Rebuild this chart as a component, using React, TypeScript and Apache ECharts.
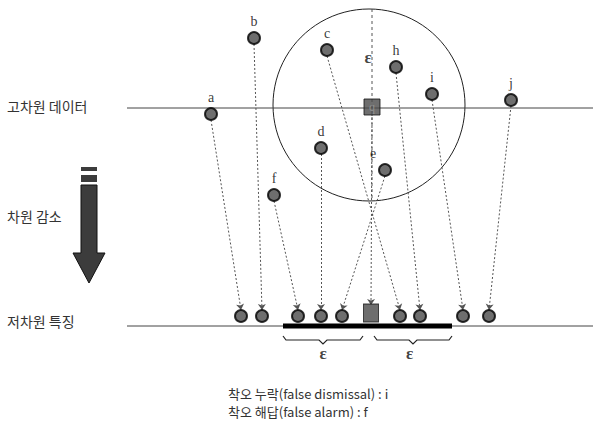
import React, { useEffect, useRef } from "react";
import * as echarts from "echarts";

// High-dimensional points (pixel-like data space 593 x 433, y downward)
const pointNames = ["a", "b", "c", "d", "e", "f", "h", "i", "j"];
const highX = [211, 254, 327, 321, 385, 274, 396, 432, 511];
const highY = [114, 38, 50, 148, 170, 195, 67, 94, 100];
// projected (low-dimensional) positions of the same points
const lowX = [241, 262, 400, 321, 342, 298, 420, 463, 489];
const lowY = 316;
// query point
const queryHigh = [372, 107];
const queryLow = [371, 313];
// epsilon ball
const ballCenter = [369, 105];
const ballRadius = 96;
// feature lines
const highLineY = 108;
const lowLineY = 326;
const lineStartX = 127;
const lineEndX = 593;
// epsilon range on low-dim line
const rangeX = [283, 452];

const FONT_KR = "'Noto Sans CJK KR', sans-serif";
const FONT_SERIF = "'Liberation Serif', 'DejaVu Serif', serif";

export default function App() {
  const ref = useRef<HTMLDivElement>(null);
  useEffect(() => {
    if (!ref.current) return;
    const chart = echarts.init(ref.current, undefined, { renderer: "svg" });

    const highData = pointNames.map((n, k) => ({
      name: n,
      value: [highX[k], highY[k]],
      label: n === "e" ? { offset: [-12, 0], distance: 3 } : undefined,
    }));
    const lowData = pointNames.map((n, k) => ({ name: n, value: [lowX[k], lowY] }));

    const projLines = pointNames.map((n, k) => ({
      coords: [
        [highX[k], highY[k] + 6],
        [lowX[k], lowY - 6],
      ],
    }));
    projLines.push({
      coords: [
        [queryHigh[0], queryHigh[1] + 7],
        [queryLow[0], queryLow[1] - 8],
      ],
    });

    const pointStyle = {
      color: "#4a4a4a",
      borderColor: "#000",
      borderWidth: 2,
    };

    const option: any = {
      animation: false,
      backgroundColor: "#fff",
      grid: { left: 0, right: 0, top: 0, bottom: 0 },
      xAxis: { type: "value", min: 0, max: 593, show: false },
      yAxis: { type: "value", min: 0, max: 433, inverse: true, show: false },
      graphic: [
        { type: "text", left: 7, top: 99, style: { text: "고차원 데이터", font: `14px ${FONT_KR}`, fill: "#333" } },
        { type: "text", left: 7, top: 209, style: { text: "차원 감소", font: `14px ${FONT_KR}`, fill: "#333" } },
        { type: "text", left: 7, top: 314, style: { text: "저차원 특징", font: `14px ${FONT_KR}`, fill: "#333" } },
        { type: "text", left: 228, top: 387, style: { text: "착오 누락(false dismissal) : i", font: `13px ${FONT_KR}`, fill: "#333" } },
        { type: "text", left: 228, top: 405, style: { text: "착오 해답(false alarm) : f", font: `13px ${FONT_KR}`, fill: "#333" } },
      ],
      series: [
        {
          type: "line",
          data: [[lineStartX, highLineY], [lineEndX, highLineY]],
          symbol: "none",
          lineStyle: { color: "#444", width: 1 },
          silent: true,
          z: 1,
        },
        {
          type: "line",
          data: [[lineStartX, lowLineY], [lineEndX, lowLineY]],
          symbol: "none",
          lineStyle: { color: "#444", width: 1 },
          silent: true,
          z: 1,
        },
        {
          type: "line",
          data: [[rangeX[0], lowLineY], [rangeX[1], lowLineY]],
          symbol: "none",
          lineStyle: { color: "#000", width: 5 },
          silent: true,
          z: 2,
        },
        {
          type: "line",
          data: [[queryHigh[0], ballCenter[1] - ballRadius], [queryHigh[0], ballCenter[1] + ballRadius]],
          symbol: "none",
          lineStyle: { color: "#555", width: 1, type: [3, 3] },
          silent: true,
          z: 1,
        },
        {
          type: "custom",
          data: [[ballCenter[0], ballCenter[1], ballRadius]],
          renderItem: (params: any, api: any) => {
            const c = api.coord([api.value(0), api.value(1)]);
            const r = api.size([api.value(2), 0])[0];
            return {
              type: "circle",
              shape: { cx: c[0], cy: c[1], r },
              style: { fill: "none", stroke: "#222", lineWidth: 1 },
            };
          },
          silent: true,
          z: 1,
        },
        {
          type: "custom",
          data: [
            [rangeX[0], queryLow[0] - 8],
            [queryLow[0] + 3, rangeX[1]],
          ],
          renderItem: (params: any, api: any) => {
            const p1 = api.coord([api.value(0), lowLineY + 10]);
            const p2 = api.coord([api.value(1), lowLineY + 10]);
            const x1 = p1[0];
            const x2 = p2[0];
            const y = p1[1];
            const m = (x1 + x2) / 2;
            return {
              type: "polyline",
              shape: {
                points: [
                  [x1, y],
                  [x1 + 3, y + 4],
                  [m - 4, y + 4],
                  [m, y + 8],
                  [m + 4, y + 4],
                  [x2 - 3, y + 4],
                  [x2, y],
                ],
              },
              style: { fill: "none", stroke: "#222", lineWidth: 1.2 },
            };
          },
          silent: true,
          z: 2,
        },
        {
          type: "custom",
          data: [[89, 167, 283]],
          renderItem: (params: any, api: any) => {
            const top = api.coord([api.value(0), api.value(1)]);
            const tip = api.coord([api.value(0), api.value(2)]);
            const cx = top[0];
            const y0 = top[1];
            const y1 = tip[1];
            const fill = "#3c3c3c";
            return {
              type: "group",
              children: [
                { type: "rect", shape: { x: cx - 8, y: y0, width: 16, height: 4 }, style: { fill } },
                { type: "rect", shape: { x: cx - 8, y: y0 + 8, width: 16, height: 7 }, style: { fill } },
                {
                  type: "polygon",
                  shape: {
                    points: [
                      [cx - 8, y0 + 18],
                      [cx + 8, y0 + 18],
                      [cx + 8, y1 - 30],
                      [cx + 16, y1 - 30],
                      [cx, y1],
                      [cx - 16, y1 - 30],
                      [cx - 8, y1 - 30],
                    ],
                  },
                  style: { fill, stroke: "#111", lineWidth: 1 },
                },
              ],
            };
          },
          silent: true,
          z: 2,
        },
        {
          type: "lines",
          coordinateSystem: "cartesian2d",
          data: projLines,
          symbol: ["none", "arrow"],
          symbolSize: 6,
          lineStyle: { color: "#555", width: 1, type: [2, 2], opacity: 1 },
          silent: true,
          z: 3,
        },
        {
          type: "scatter",
          data: highData,
          symbol: "circle",
          symbolSize: 12,
          itemStyle: pointStyle,
          label: {
            show: true,
            position: "top",
            distance: 3,
            formatter: "{b}",
            fontFamily: FONT_SERIF,
            fontSize: 14,
            color: "#000",
          },
          z: 5,
        },
        {
          type: "scatter",
          data: lowData,
          symbol: "circle",
          symbolSize: 12,
          itemStyle: pointStyle,
          z: 5,
        },
        {
          type: "scatter",
          data: [
            { value: queryHigh, symbolSize: 16, label: { show: true, position: "inside", formatter: "q", color: "#999", fontSize: 12, fontFamily: FONT_SERIF } },
            { value: queryLow, symbolSize: [15, 18] },
          ],
          symbol: "rect",
          itemStyle: { color: "#4a4a4a", borderColor: "#111", borderWidth: 1 },
          z: 6,
        },
        {
          type: "scatter",
          data: [
            [queryHigh[0] - 4, 57],
            [(rangeX[0] + queryLow[0]) / 2 - 4, 353],
            [(queryLow[0] + rangeX[1]) / 2 - 2, 353],
          ],
          symbolSize: 0,
          label: {
            show: true,
            position: "inside",
            formatter: "ε",
            fontFamily: FONT_SERIF,
            fontWeight: "bold",
            fontSize: 17,
            color: "#111",
          },
          silent: true,
          z: 6,
        },
      ],
    };
    chart.setOption(option);
    return () => chart.dispose();
  }, []);

  return (
    <div
      ref={ref}
      style={{ position: "fixed", left: 0, top: 0, width: 593, height: 433, background: "#fff" }}
    />
  );
}
